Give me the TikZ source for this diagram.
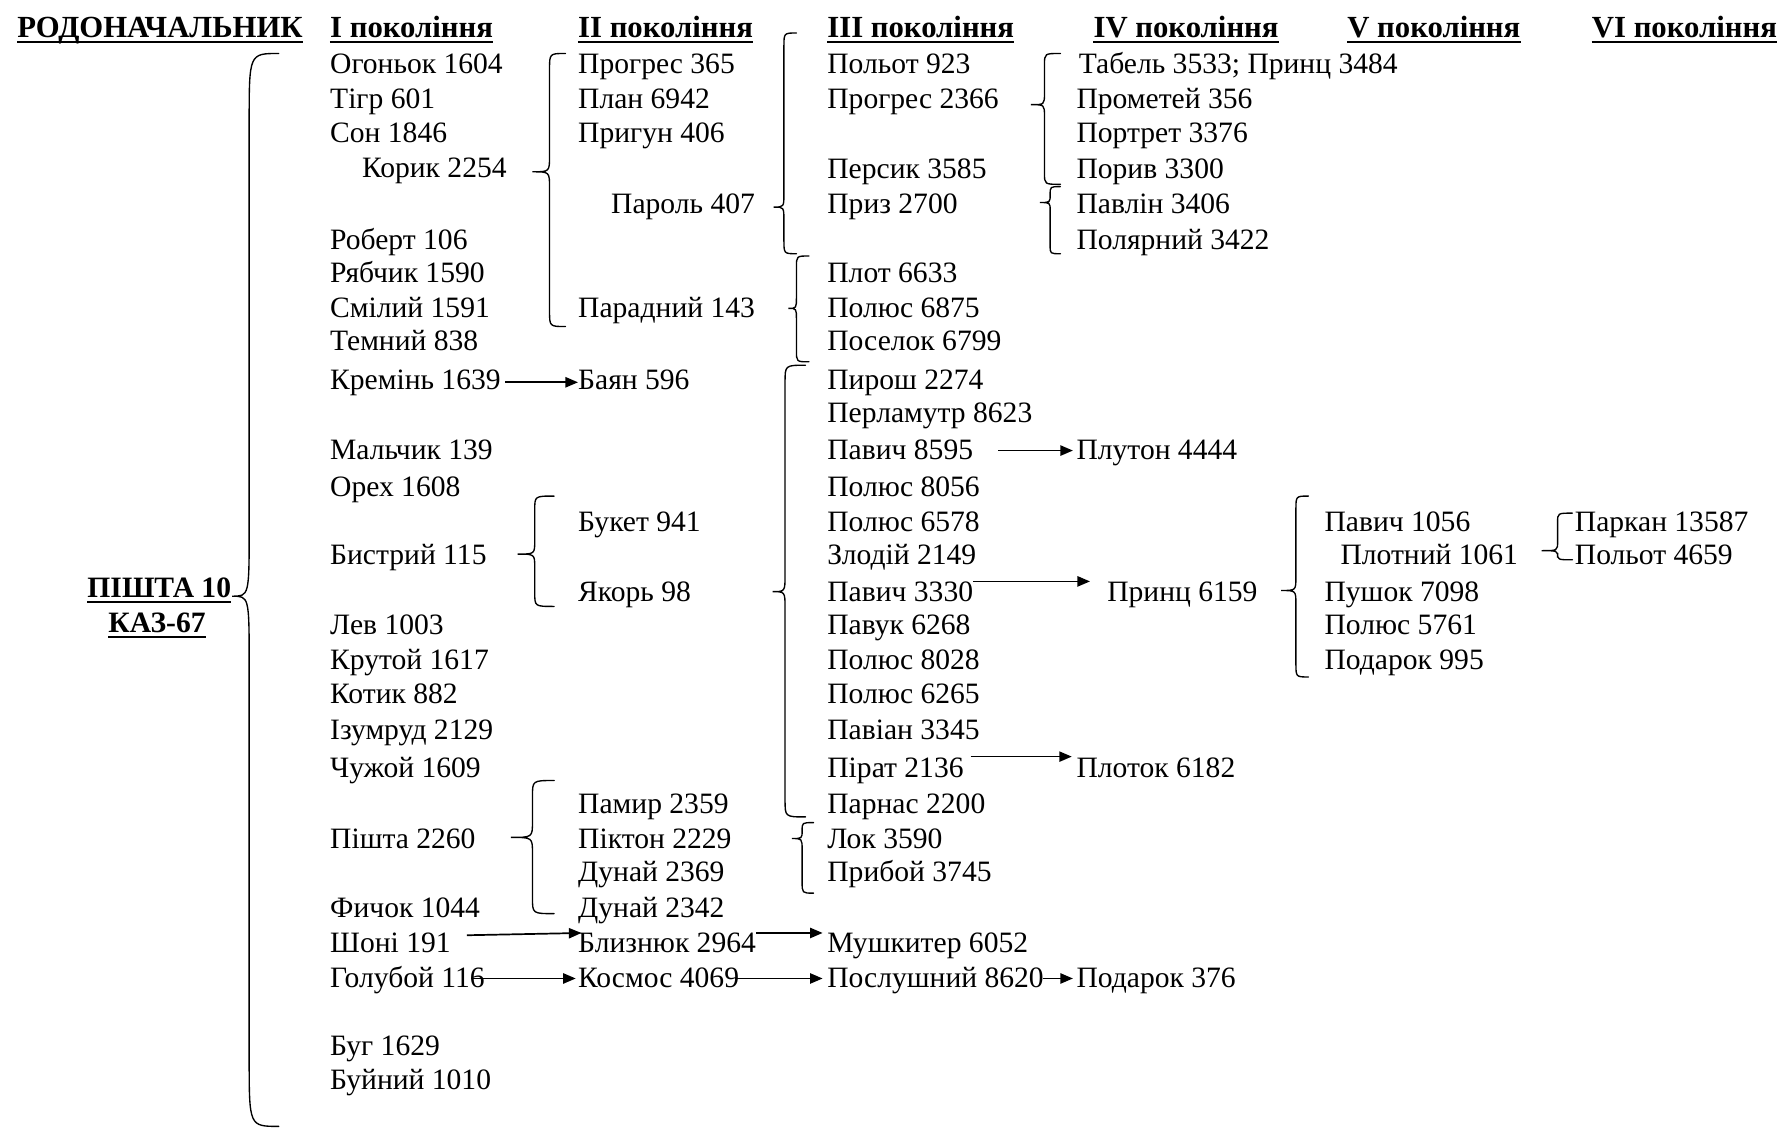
\documentclass[tikz,border=0pt]{standalone}
\usepackage{fontspec}
\setmainfont{Liberation Serif}
\usetikzlibrary{arrows.meta}
\newcommand\gsize{\fontsize{26}{30}\selectfont}
\newcommand\headfsize{\fontsize{27}{30}\selectfont}
\tikzset{
  lbl/.style={anchor=base west, inner sep=0pt, font=\gsize},
  hdr/.style={anchor=base west, inner sep=0pt, font=\headfsize\bfseries},
  rootlbl/.style={anchor=base, inner sep=0pt, font=\gsize\bfseries},
  brace/.style={line width=1.2pt, line cap=round},
  arr/.style={line width=1.5pt, -{Triangle[length=11pt,width=9pt]}},
  uline/.style={line width=1.5pt}
}
% curly brace: #1 x of the ends, #2 top y, #3 x of the spine, #4 x of the tip,
% #5 y of the tip, #6 bottom y, #7 upper bend, #8 lower bend
\newcommand\cbr[8]{%
  \draw[brace] (#1,#2) .. controls (#3,#2) .. (#3,{#2+#7}) -- (#3,{#5-#7})
    .. controls (#3,#5) .. (#4,#5) .. controls (#3,#5) .. (#3,{#5+#8})
    -- (#3,{#6-#8}) .. controls (#3,#6) .. (#1,#6);}
\begin{document}
\begin{tikzpicture}[x=1pt,y=-1pt]
\useasboundingbox (0,0) rectangle (1568,991);

% column headings
\node[hdr] (hr) at (15,33) {РОДОНАЧАЛЬНИК};
\node[hdr] (h1) at (290,33) {I покоління};
\node[hdr] (h2) at (508,33) {II покоління};
\node[hdr] (h3) at (727,33) {III покоління};
\node[hdr] (h4) at (961,33) {IV покоління};
\node[hdr] (h5) at (1184,33) {V покоління};
\node[hdr] (h6) at (1399,33) {VI покоління};

% founder
\node[rootlbl] (r1) at (140,525) {ПІШТА 10};
\node[rootlbl] (r2) at (138,556) {КАЗ-67};

\foreach \n in {hr,h1,h2,h3,h4,h5,h6,r1,r2}
  \draw[uline] ([yshift=-4pt]\n.base west) -- ([yshift=-4pt]\n.base east);

% generation I
\node[lbl] (og) at (290,65) {Огоньок 1604};
\node[lbl] (tigr) at (290,95) {Тігр 601};
\node[lbl] (son) at (290,125) {Сон 1846};
\node[lbl] (korik) at (318,156) {Корик 2254};
\node[lbl] (robert) at (290,219) {Роберт 106};
\node[lbl] (ryab) at (290,248) {Рябчик 1590};
\node[lbl] (smil) at (290,279) {Смілий 1591};
\node[lbl] (temn) at (290,308) {Темний 838};
\node[lbl] (krem) at (290,342) {Кремінь 1639};
\node[lbl] (malch) at (290,404) {Мальчик 139};
\node[lbl] (oreh) at (290,436) {Орех 1608};
\node[lbl] (bystr) at (290,496) {Бистрий 115};
\node[lbl] (lev) at (290,558) {Лев 1003};
\node[lbl] (krut) at (290,588) {Крутой 1617};
\node[lbl] (kotyk) at (290,618) {Котик 882};
\node[lbl] (izum) at (290,650) {Ізумруд 2129};
\node[lbl] (chuzh) at (290,683) {Чужой 1609};
\node[lbl] (pishta) at (290,746) {Пішта 2260};
\node[lbl] (fych) at (290,806) {Фичок 1044};
\node[lbl] (shoni) at (290,837) {Шоні 191};
\node[lbl] (golub) at (290,868) {Голубой 116};
\node[lbl] (bug) at (290,928) {Буг 1629};
\node[lbl] (buyn) at (290,958) {Буйний 1010};

% generation II
\node[lbl] (progr) at (508,65) {Прогрес 365};
\node[lbl] (plan) at (508,95) {План 6942};
\node[lbl] (pryg) at (508,125) {Пригун 406};
\node[lbl] (parol) at (537,188) {Пароль 407};
\node[lbl] (parad) at (508,279) {Парадний 143};
\node[lbl] (bayan) at (508,342) {Баян 596};
\node[lbl] (buket) at (508,467) {Букет 941};
\node[lbl] (yakor) at (508,529) {Якорь 98};
\node[lbl] (pamir) at (508,715) {Памир 2359};
\node[lbl] (pikton) at (508,746) {Піктон 2229};
\node[lbl] (dunaia) at (508,775) {Дунай 2369};
\node[lbl] (dunaib) at (508,806) {Дунай 2342};
\node[lbl] (blyzn) at (508,837) {Близнюк 2964};
\node[lbl] (kosmos) at (508,868) {Космос 4069};

% generation III
\node[lbl] (polot) at (727,65) {Польот 923};
\node[lbl] (progrb) at (727,95) {Прогрес 2366};
\node[lbl] (persyk) at (727,157) {Персик 3585};
\node[lbl] (pryz) at (727,188) {Приз 2700};
\node[lbl] (plot) at (727,248) {Плот 6633};
\node[lbl] (polusa) at (727,279) {Полюс 6875};
\node[lbl] (posel) at (727,308) {Поселок 6799};
\node[lbl] (pyrosh) at (727,342) {Пирош 2274};
\node[lbl] (perlam) at (727,371) {Перламутр 8623};
\node[lbl] (pavycha) at (727,404) {Павич 8595};
\node[lbl] (polusb) at (727,436) {Полюс 8056};
\node[lbl] (polusc) at (727,467) {Полюс 6578};
\node[lbl] (zlod) at (727,496) {Злодій 2149};
\node[lbl] (pavychb) at (727,529) {Павич 3330};
\node[lbl] (pavuk) at (727,558) {Павук 6268};
\node[lbl] (polusd) at (727,588) {Полюс 8028};
\node[lbl] (poluse) at (727,618) {Полюс 6265};
\node[lbl] (pavian) at (727,650) {Павіан 3345};
\node[lbl] (pirat) at (727,683) {Пірат 2136};
\node[lbl] (parnas) at (727,715) {Парнас 2200};
\node[lbl] (lok) at (727,746) {Лок 3590};
\node[lbl] (prybij) at (727,775) {Прибой 3745};
\node[lbl] (mushk) at (727,837) {Мушкитер 6052};
\node[lbl] (posl) at (727,868) {Послушний 8620};

% generation IV
\node[lbl] (tabel) at (948,65) {Табель 3533; Принц 3484};
\node[lbl] (promet) at (946,95) {Прометей 356};
\node[lbl] (portr) at (946,125) {Портрет 3376};
\node[lbl] (poryv) at (946,157) {Порив 3300};
\node[lbl] (pavlin) at (946,188) {Павлін 3406};
\node[lbl] (polyar) at (946,219) {Полярний 3422};
\node[lbl] (pluton) at (946,404) {Плутон 4444};
\node[lbl] (prince) at (973,529) {Принц 6159};
\node[lbl] (plotok) at (946,683) {Плоток 6182};
\node[lbl] (podara) at (946,868) {Подарок 376};

% generation V
\node[lbl] (pavychc) at (1164,467) {Павич 1056};
\node[lbl] (plotn) at (1178,496) {Плотний 1061};
\node[lbl] (push) at (1164,529) {Пушок 7098};
\node[lbl] (polusf) at (1164,558) {Полюс 5761};
\node[lbl] (podarb) at (1164,588) {Подарок 995};

% generation VI
\node[lbl] (parkan) at (1384,467) {Паркан 13587};
\node[lbl] (polotb) at (1384,496) {Польот 4659};

% braces
\cbr{245}{47}{219}{204}{524}{990}{60}{60}
\cbr{497}{47}{483}{468}{151}{287}{14}{14}
\cbr{700}{29}{689}{680}{182}{223}{12}{12}
\cbr{711}{225}{700}{693}{271}{318}{10}{10}
\cbr{708}{321}{690}{679}{520}{718}{15}{15}
\cbr{487}{436}{470}{455}{487}{533}{12}{12}
\cbr{487}{686}{468}{449}{736}{803}{14}{14}
\cbr{715}{723}{705}{696}{737}{785}{7}{10}
\cbr{932}{47}{918}{906}{92}{162}{10}{10}
\cbr{932}{164}{923}{914}{178}{223}{7}{7}
\cbr{1150}{436}{1139}{1126}{519}{595}{12}{12}
\cbr{1382}{451}{1369}{1355}{484}{492}{8}{6}

% arrows
\draw[arr] ([xshift=4pt,yshift=6pt]krem.base east) -- ([yshift=6pt]bayan.base west);
\draw[arr] ([xshift=22pt,yshift=8pt]pavycha.base east) -- ([xshift=-3pt,yshift=8pt]pluton.base west);
\draw[arr] ([yshift=18pt]pavychb.base east) -- ([xshift=-15pt,yshift=18pt]prince.base west);
\draw[arr] ([xshift=6pt,yshift=18pt]pirat.base east) -- ([xshift=-4pt,yshift=18pt]plotok.base west);
\draw[arr] ([xshift=14pt,yshift=15pt]shoni.base east) -- ([xshift=3pt,yshift=17pt]blyzn.base west);
\draw[arr] ([xshift=-12pt,yshift=8pt]golub.base east) -- ([xshift=-2pt,yshift=8pt]kosmos.base west);
\draw[arr] ([yshift=17pt]blyzn.base east) -- ([xshift=-4pt,yshift=17pt]mushk.base west);
\draw[arr] ([xshift=-4pt,yshift=8pt]kosmos.base east) -- ([xshift=-4pt,yshift=8pt]posl.base west);
\draw[arr] ([xshift=-1pt,yshift=8pt]posl.base east) -- ([xshift=-3pt,yshift=8pt]podara.base west);
\end{tikzpicture}
\end{document}
